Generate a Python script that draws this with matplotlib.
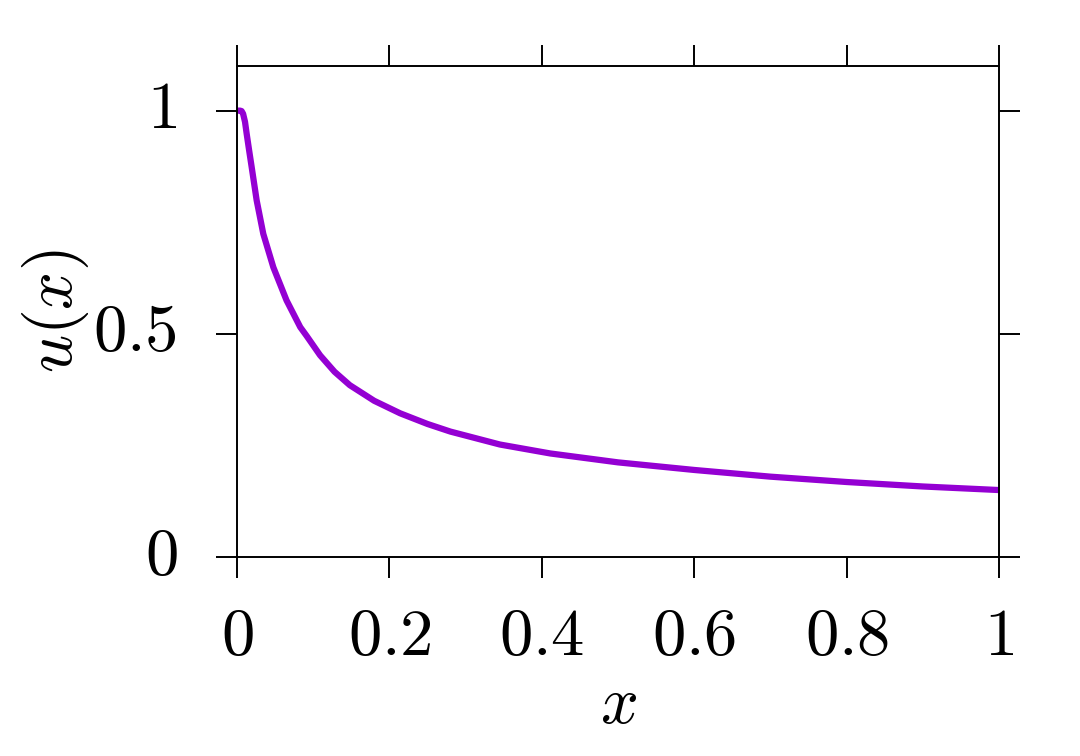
import matplotlib
matplotlib.use("Agg")
import matplotlib.pyplot as plt
from matplotlib.transforms import ScaledTranslation

plt.rcParams["mathtext.fontset"] = "cm"
plt.rcParams["font.family"] = "serif"
plt.rcParams["font.serif"] = ["DejaVu Serif"]

# values
x_vals = [0.0, 0.004, 0.006, 0.008, 0.0105, 0.0127, 0.016, 0.0193, 0.0258,
          0.0345, 0.0477, 0.065, 0.083, 0.0915, 0.109, 0.128, 0.148, 0.18,
          0.214, 0.25, 0.28, 0.345, 0.411, 0.5, 0.6, 0.7, 0.8, 0.9, 1.0]
u_vals = [1.0, 1.0, 0.999, 0.993, 0.975, 0.948, 0.910, 0.873, 0.799,
          0.724, 0.649, 0.575, 0.515, 0.495, 0.452, 0.415, 0.385, 0.350,
          0.322, 0.298, 0.281, 0.252, 0.232, 0.212, 0.195, 0.180, 0.168,
          0.158, 0.150]

x_ticks = [0, 0.2, 0.4, 0.6, 0.8, 1]
y_ticks = [0, 0.5, 1]

fig = plt.figure(figsize=(10.8, 7.56), dpi=100)
ax = fig.add_axes([237 / 1080, 1 - 557 / 756, 762 / 1080, 491 / 756])

ax.plot(x_vals, u_vals, color="#9400D3", linewidth=4.5,
        solid_capstyle="butt", solid_joinstyle="round")

ax.set_xlim(0, 1)
ax.set_ylim(0, 1.1)

ax.set_xticks(x_ticks, [f"${v:g}$" for v in x_ticks])
ax.set_yticks(y_ticks, [f"${v:g}$" for v in y_ticks])
ax.tick_params(direction="out", length=15, width=1.4, labelsize=48,
               top=True, right=True, labeltop=False, labelright=False)
ax.tick_params(axis="x", pad=19)
ax.tick_params(axis="y", pad=28)

# nudge y tick labels up a little so digits sit centred on the ticks
shift = ScaledTranslation(0, 0.08, fig.dpi_scale_trans)
for lab in ax.get_yticklabels():
    lab.set_transform(lab.get_transform() + shift)

for sp in ax.spines.values():
    sp.set_linewidth(1.4)

ax.set_xlabel("$x$", fontsize=48)
ax.set_ylabel("$u(x)$", fontsize=48)
ax.xaxis.set_label_coords(0.5, -0.30)
ax.yaxis.set_label_coords(-0.238, 0.5)
ax.xaxis.label.set_va("center")
ax.yaxis.label.set_va("center")

fig.savefig("out.png", dpi=100)
